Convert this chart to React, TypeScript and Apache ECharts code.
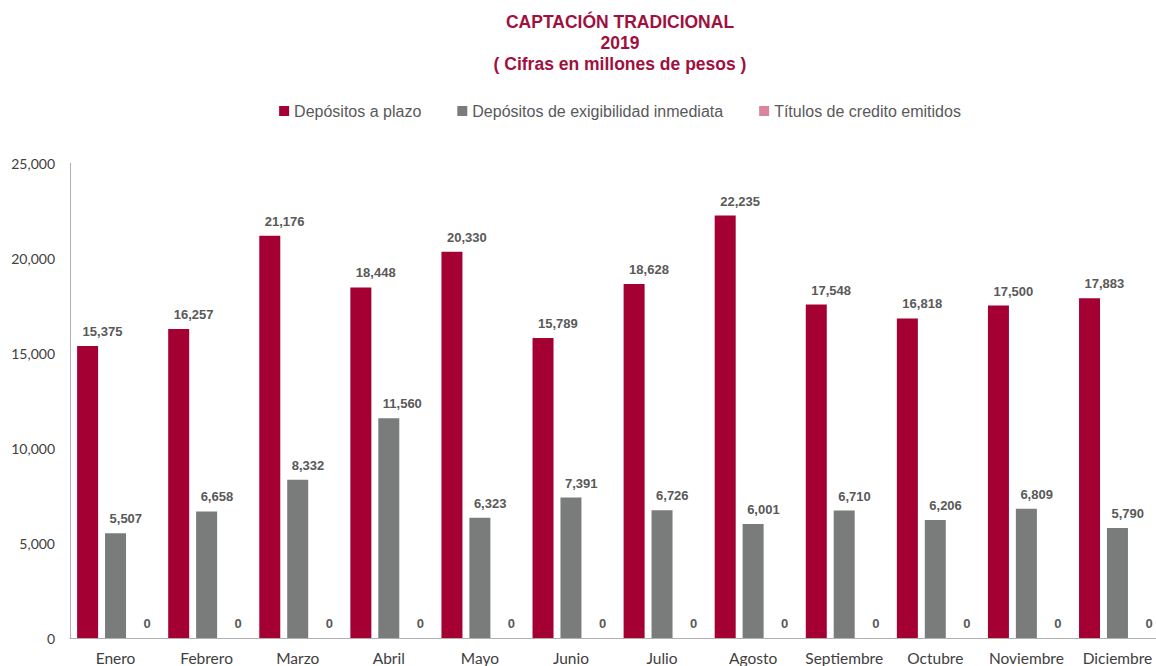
import React, { useEffect, useRef } from "react";
import * as echarts from "echarts";

const months = ["Enero", "Febrero", "Marzo", "Abril", "Mayo", "Junio", "Julio", "Agosto", "Septiembre", "Octubre", "Noviembre", "Diciembre"];
const depositosPlazo = [15375, 16257, 21176, 18448, 20330, 15789, 18628, 22235, 17548, 16818, 17500, 17883];
const depositosExigibilidad = [5507, 6658, 8332, 11560, 6323, 7391, 6726, 6001, 6710, 6206, 6809, 5790];
const titulosCredito = [0, 0, 0, 0, 0, 0, 0, 0, 0, 0, 0, 0];
const seriesNames = ["Depósitos a plazo", "Depósitos de exigibilidad inmediata", "Títulos de credito emitidos"];
const colors = ["#A50034", "#7A7C7C", "#D9869C"];

export default function App() {
  const ref = useRef<HTMLDivElement>(null);
  useEffect(() => {
    if (!ref.current) return;
    const chart = echarts.init(ref.current, undefined, { renderer: "svg" });
    const fmt = (v: number) => v.toLocaleString("en-US");
    const makeLabel = (dx: number) => ({
      show: true,
      position: "top" as const,
      distance: 8,
      align: "left" as const,
      offset: [dx, 0],
      color: "#595959",
      fontFamily: "Liberation Sans",
      fontWeight: "bold" as const,
      fontSize: 13,
      formatter: (p: any) => fmt(p.value),
    });
    const datasets = [depositosPlazo, depositosExigibilidad, titulosCredito];
    const offsets = [-5, -6, 0];
    chart.setOption({
      animation: false,
      title: {
        text: "CAPTACIÓN TRADICIONAL\n2019\n( Cifras en millones de pesos )",
        left: "center",
        top: 6,
        textStyle: {
          color: "#A0103E",
          fontFamily: "Liberation Sans",
          fontWeight: "bold",
          fontSize: 17.5,
          lineHeight: 21,
        },
      },
      legend: {
        top: 98,
        left: "center",
        icon: "rect",
        itemWidth: 10,
        itemHeight: 10,
        itemGap: 36,
        textStyle: { color: "#595959", fontFamily: "Liberation Sans", fontSize: 16 },
        data: seriesNames,
      },
      grid: { left: 70, right: 77, top: 163, bottom: 28 },
      xAxis: {
        type: "category",
        data: months,
        axisLine: { lineStyle: { color: "#B0B0B0" } },
        axisTick: { show: false },
        axisLabel: { color: "#404040", fontFamily: "Lato", fontSize: 15.5, margin: 12, interval: 0 },
      },
      yAxis: {
        type: "value",
        min: 0,
        max: 25000,
        interval: 5000,
        axisLine: { show: true, lineStyle: { color: "#B0B0B0" } },
        axisTick: { show: false },
        splitLine: { show: false },
        axisLabel: { color: "#404040", fontFamily: "Lato", fontSize: 14, margin: 15, formatter: (v: number) => fmt(v) },
      },
      series: seriesNames.map((name, i) => ({
        name,
        type: "bar",
        data: datasets[i],
        barWidth: 21,
        barGap: "33%",
        itemStyle: { color: colors[i] },
        label: makeLabel(offsets[i]),
      })),
    });
    return () => chart.dispose();
  }, []);
  return <div ref={ref} style={{ position: "fixed", left: 0, top: 0, width: 1240, height: 666, background: "#fff" }} />;
}
